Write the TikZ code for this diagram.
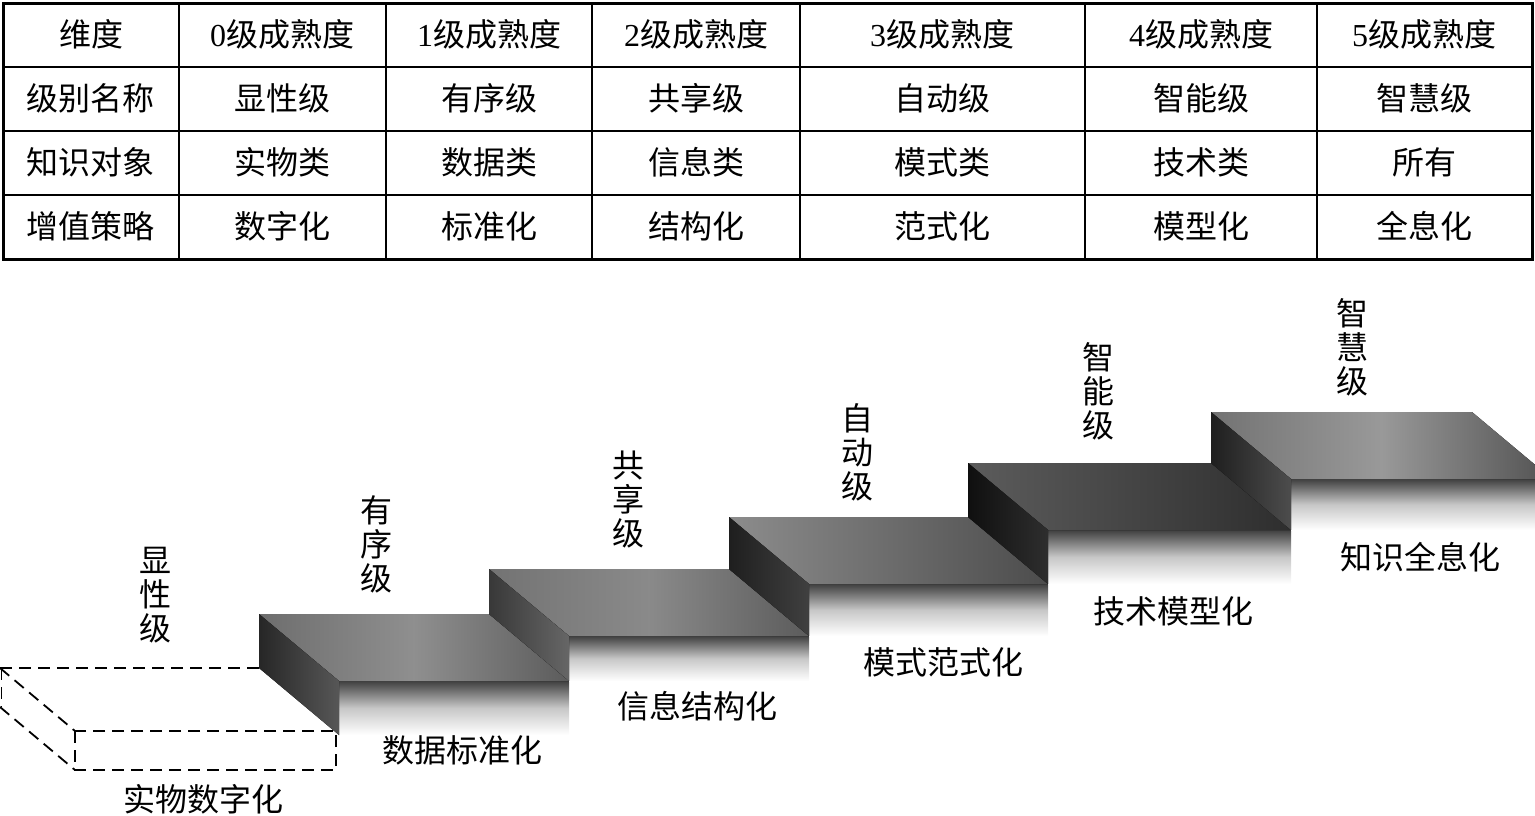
\documentclass[tikz,border=0pt]{standalone}
\usepackage{fontspec}
\setmainfont{Liberation Serif}
\newfontfamily\cjk{Noto Sans CJK SC}
\usetikzlibrary{positioning,calc}

\tikzset{
    cell/.style={font=\cjk\fontsize{32}{34}\selectfont, inner sep=0pt},
    vlabel/.style={font=\cjk\fontsize{32}{34}\selectfont, align=center, inner sep=0pt},
    gridline/.style={line width=1.4pt},
    frontface/.style={top color=black!75, bottom color=white, middle color=black!22},
    ghost/.style={line width=1.8pt, dash pattern=on 12pt off 7pt},
}

\begin{document}
\begin{tikzpicture}[x=1pt, y=-1pt]
    \clip (0,0) rectangle (1535,815);

    % Table
    \draw[line width=3pt] (3,3) rectangle (1532,259);
    \draw[gridline] (179,3) -- (179,259) (386,3) -- (386,259) (592,3) -- (592,259)
        (800,3) -- (800,259) (1085,3) -- (1085,259) (1317,3) -- (1317,259);
    \draw[gridline] (3,67) -- (1532,67) (3,131) -- (1532,131) (3,195) -- (1532,195);

    % Header row
    \node[cell] (h0) at (91,34) {维度};
    \node[cell] (h1) at (282,34) {{\rmfamily 0}级成熟度};
    \node[cell] (h2) at (489,34) {{\rmfamily 1}级成熟度};
    \node[cell] (h3) at (696,34) {{\rmfamily 2}级成熟度};
    \node[cell] (h4) at (942,34) {{\rmfamily 3}级成熟度};
    \node[cell] (h5) at (1201,34) {{\rmfamily 4}级成熟度};
    \node[cell] (h6) at (1424,34) {{\rmfamily 5}级成熟度};

    % Level names
    \node[cell] (n0) at (91,98) {级别名称};
    \node[cell] (n1) at (282,98) {显性级};
    \node[cell] (n2) at (489,98) {有序级};
    \node[cell] (n3) at (696,98) {共享级};
    \node[cell] (n4) at (942,98) {自动级};
    \node[cell] (n5) at (1201,98) {智能级};
    \node[cell] (n6) at (1424,98) {智慧级};

    % Knowledge objects
    \node[cell] (o0) at (91,162) {知识对象};
    \node[cell] (o1) at (282,162) {实物类};
    \node[cell] (o2) at (489,162) {数据类};
    \node[cell] (o3) at (696,162) {信息类};
    \node[cell] (o4) at (942,162) {模式类};
    \node[cell] (o5) at (1201,162) {技术类};
    \node[cell] (o6) at (1424,162) {所有};

    % Strategies
    \node[cell] (v0) at (91,226) {增值策略};
    \node[cell] (v1) at (282,226) {数字化};
    \node[cell] (v2) at (489,226) {标准化};
    \node[cell] (v3) at (696,226) {结构化};
    \node[cell] (v4) at (942,226) {范式化};
    \node[cell] (v5) at (1201,226) {模型化};
    \node[cell] (v6) at (1424,226) {全息化};

    % Step 0 (dashed)
    \draw[ghost] (0,668) -- (259,668);
    \draw[ghost] (1.5,668) -- (1.5,707);
    \draw[ghost] (0,668) -- (75,731) (0,707) -- (75,770);
    \draw[ghost] (75,731) rectangle (336,770);

    % Step 1
    \fill[frontface] (339,681) rectangle (569,735);
    \fill[left color=black!57, right color=black!64, middle color=black!44] (259,614) -- (489,614) -- (569,681) -- (339,681) -- cycle;
    \fill[left color=black!85, right color=black!66] (259,614) -- (339,681) -- (339,735) -- (259,668) -- cycle;

    % Step 2
    \fill[frontface] (569,636) rectangle (809,681);
    \fill[left color=black!55, right color=black!64, middle color=black!46] (489,569) -- (729,569) -- (809,636) -- (569,636) -- cycle;
    \fill[left color=black!78, right color=black!60] (489,569) -- (569,636) -- (569,681) -- (489,614) -- cycle;

    % Step 3
    \fill[frontface] (809,584) rectangle (1048,636);
    \fill[left color=black!45, right color=black!70] (729,517) -- (968,517) -- (1048,584) -- (809,584) -- cycle;
    \fill[left color=black!88, right color=black!75] (729,517) -- (809,584) -- (809,636) -- (729,569) -- cycle;

    % Step 4
    \fill[frontface] (1048,530) rectangle (1291,584);
    \fill[left color=black!64, right color=black!82] (968,463) -- (1211,463) -- (1291,530) -- (1048,530) -- cycle;
    \fill[left color=black!94, right color=black!82] (968,463) -- (1048,530) -- (1048,584) -- (968,517) -- cycle;

    % Step 5
    \fill[frontface] (1291,479) rectangle (1552,530);
    \fill[left color=black!55, right color=black!68, middle color=black!40] (1211,412) -- (1472,412) -- (1552,479) -- (1291,479) -- cycle;
    \fill[left color=black!88, right color=black!70] (1211,412) -- (1291,479) -- (1291,530) -- (1211,463) -- cycle;

    % Level labels
    \node[vlabel] (l0) at (155,595) {显\\性\\级};
    \node[vlabel] (l1) at (376,544) {有\\序\\级};
    \node[vlabel] (l2) at (628,500) {共\\享\\级};
    \node[vlabel] (l3) at (857,452) {自\\动\\级};
    \node[vlabel] (l4) at (1098,391) {智\\能\\级};
    \node[vlabel] (l5) at (1352,347) {智\\慧\\级};

    % Strategy labels
    \node[cell] (t0) at (203,799) {实物数字化};
    \node[cell] (t1) at (462,750) {数据标准化};
    \node[cell] (t2) at (697,706) {信息结构化};
    \node[cell] (t3) at (943,662) {模式范式化};
    \node[cell] (t4) at (1173,611) {技术模型化};
    \node[cell] (t5) at (1420,557) {知识全息化};
\end{tikzpicture}
\end{document}
